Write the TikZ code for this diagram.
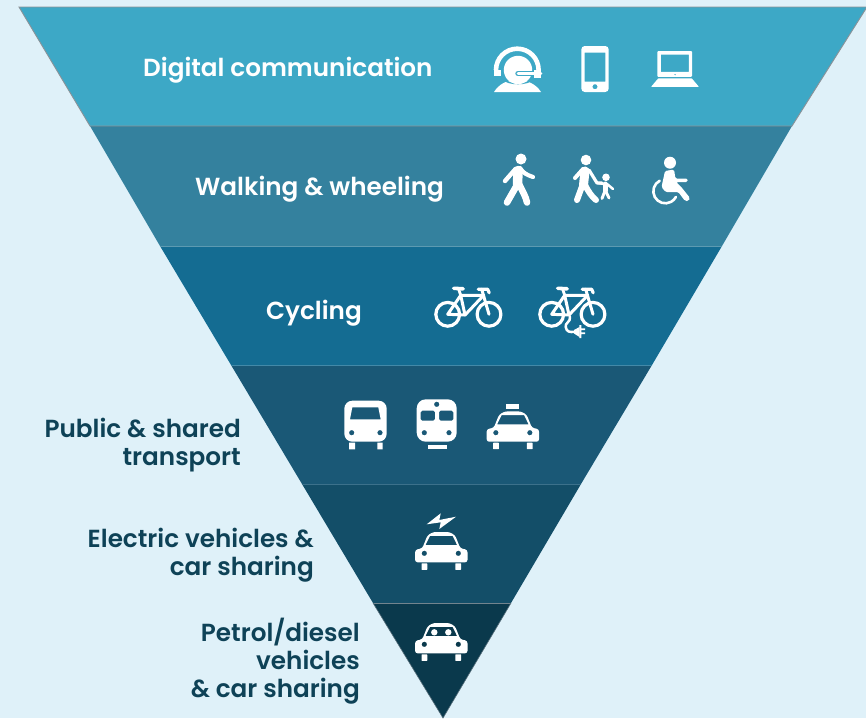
\documentclass[tikz,border=0pt]{standalone}
\usepackage{fontspec}
\setmainfont{Poppins}[BoldFont={Poppins SemiBold}]
\definecolor{bgc}{HTML}{DFF1F9}
\definecolor{bandA}{HTML}{3DA8C6}
\definecolor{bandB}{HTML}{34819E}
\definecolor{bandC}{HTML}{146C92}
\definecolor{bandD}{HTML}{1A5876}
\definecolor{bandE}{HTML}{134E68}
\definecolor{bandF}{HTML}{0A394C}
\definecolor{darklabel}{HTML}{0E4257}
\definecolor{edgec}{HTML}{8A9298}
\tikzset{
  whitelabel/.style={font=\bfseries\fontsize{24.7}{28}\selectfont,text=white,inner sep=0pt},
  darktext/.style={font=\bfseries\fontsize{24.7}{28}\selectfont,text=darklabel,inner sep=0pt,align=right},
  iconline/.style={draw=white,line cap=round,line join=round},
  sepline/.style={line width=0.8},
  carwheels/.pic={
    \fill[white,rounded corners=0.5pt] (-19.8,1) rectangle (-14,7.5) (14,1) rectangle (19.8,7.5);
  },
  carbody/.pic={
    \fill[white,even odd rule,rounded corners=2.5pt] (-26.2,0) -- (-26.2,-12.5) -- (-19,-14) -- (-13.8,-27) -- (-8,-30.3) -- (8,-30.3) -- (13.8,-27) -- (19,-14) -- (26.2,-12.5) -- (26.2,0) -- cycle
    [sharp corners] (-15.8,-17.3) -- (-11.3,-26.5) -- (11.3,-26.5) -- (15.8,-17.3) -- cycle (-17,-9) circle (2.7) (17,-9) circle (2.7);
  },
  bikeframe/.pic={
    \draw[iconline,line width=3.2] (0,0) circle (11.9) (41.3,0) circle (11.9);
    \draw[iconline,line width=3] (0,0) -- (13,-19) -- (17.3,0.7) -- cycle;
    \draw[iconline,line width=3] (13,-19) -- (36,-19) -- (17.3,0.7);
    \draw[iconline,line width=3] (34,-25) -- (41.3,0);
    \draw[iconline,line width=2.8] (10.7,-26) -- (13,-19);
    \draw[iconline,line width=3.6] (6,-26) -- (15.5,-25.5);
    \draw[iconline,line width=3.2] (30.5,-25) -- (40,-25) -- (41.5,-21.5);
  }
}
\begin{document}
\begin{tikzpicture}[x=1pt,y=-1pt]
\useasboundingbox (0,0) rectangle (866,718);
\fill[bgc] (0,0) rectangle (866,718);
% bands
\fill[bandA] (19,7) -- (867,7) -- (792,126) -- (90,126) -- cycle;
\fill[bandB] (90,126) -- (792,126) -- (722,246) -- (160,246) -- cycle;
\fill[bandC] (160,246) -- (722,246) -- (652,365) -- (231,365) -- cycle;
\fill[bandD] (231,365) -- (652,365) -- (581,484) -- (302,484) -- cycle;
\fill[bandE] (302,484) -- (581,484) -- (511,603) -- (373,603) -- cycle;
\fill[bandF] (373,603) -- (511,603) -- (443,718) -- cycle;
% edges
\draw[edgec,line width=0.9] (90,126) -- (19,7) -- (867,7) -- (792,126) -- cycle;
\draw[sepline,color=bandB!80!white] (160,246) -- (722,246);
\draw[sepline,color=bandC!80!white] (231,365) -- (652,365);
\draw[sepline,color=bandD!85!white] (302,484) -- (581,484);
\draw[edgec!80!bandE,line width=1] (373,603) -- (511,603);
\draw[edgec!60!bandF,line width=0.6] (373,603) -- (443,718) -- (511,603);
% labels
\node[whitelabel,anchor=base west] (lblA) at (143,76.5) {Digital communication};
\node[whitelabel,anchor=base west] (lblB) at (195,195) {Walking \& wheeling};
\node[whitelabel,anchor=base west] (lblC) at (266,319.5) {Cycling};
\node[darktext,anchor=east] (lblD) at (241,445) {Public \& shared\\transport};
\node[darktext,anchor=east] (lblE) at (314,555) {Electric vehicles \&\\car sharing};
\node[darktext,anchor=east] (lblF) at (360,661.5) {Petrol/diesel\\vehicles\\\& car sharing};
% headset
\fill[white] (494,92) .. controls (499,84) and (507,80) .. (517,79.5) .. controls (527,80) and (536,84) .. (541,92) -- cycle;
\draw[bandA,line width=1.6] (503,79) .. controls (508,85) and (528,85) .. (533,79);
\fill[white] (518,70) circle (14.2);
\draw[white,line width=4.6] (496,70) arc[start angle=180,end angle=360,radius=21.3];
\fill[white] (494,69.5) rectangle (500.5,76);
\draw[bandA,line width=5.4,line cap=round] (518,73.5) -- (540,73.5);
\draw[white,line width=2.6,line cap=round] (518,73.5) -- (541,73.5);
\fill[white] (533.5,69.5) rectangle (541,77.5);
% phone
\fill[white,even odd rule,rounded corners=3.5pt] (581.3,46) rectangle (608.7,92) [sharp corners] (584.6,52.7) rectangle (605.4,81.5) (595,86.7) circle (2.6);
% laptop
\fill[white,even odd rule,rounded corners=1pt] (657.3,51) rectangle (692,76.9) [sharp corners] (660.8,54.5) rectangle (688.9,71.8) (675,74.6) circle (0.9);
\fill[white,rounded corners=0.6pt] (658.3,78.3) -- (691.7,78.3) -- (699,86.9) -- (651,86.9) -- cycle;
% walker
\fill[white] (521,159) circle (5.5);
\draw[iconline,line width=4.4] (515.5,169) -- (505,181);
\draw[iconline,line width=4.2] (520,168) .. controls (523,173) and (527,175) .. (533,177);
\draw[iconline,line width=9.5] (518,170.5) -- (517.5,185);
\draw[iconline,line width=6.6] (517,185) -- (507,202.5);
\draw[iconline,line width=6.6] (519.5,185) .. controls (522,190) and (526,197) .. (527,202.5);
% adult and child
\fill[white] (586,160) circle (5.3);
\draw[iconline,line width=4] (583,169) -- (575,178);
\draw[iconline,line width=3.2] (589,170) -- (597,183) -- (602,183);
\draw[iconline,line width=9] (585,171) -- (583.5,185);
\draw[iconline,line width=6] (582.5,185) -- (577,200);
\draw[iconline,line width=6] (585,185) .. controls (588,191) and (592,197) .. (596,200);
\fill[white] (606,177.3) circle (3.8);
\draw[iconline,line width=2.5] (604,184) -- (598,183);
\draw[iconline,line width=2.5] (607,184) -- (613,189);
\draw[iconline,line width=5] (605,184) -- (605,191);
\draw[iconline,line width=2.9] (604.5,192) -- (602,198.5);
\draw[iconline,line width=2.9] (606,192) -- (609,198);
% wheelchair
\fill[white] (670,162.7) circle (6);
\fill[white,rounded corners=1.5pt] (665,171) -- (674,169.5) -- (675.5,178.7) -- (687.7,178.7) -- (687.7,182) -- (676,182) -- (681,186.7) -- (690,198) -- (688.5,201) -- (685,201) -- (678.3,192) -- (665.5,192) -- (661.5,187) -- cycle;
\draw[white,line width=2.6,line cap=round] (659.7,180.7) arc[start angle=242,end angle=28,radius=12];
% bicycles
\pic at (447.7,314.3) {bikeframe};
\pic at (551.7,314.3) {bikeframe};
\draw[iconline,line width=2.5] (570,316.7) .. controls (571,322) and (564.5,323) .. (565.7,327) .. controls (566.5,332) and (570,332.5) .. (575,331.7);
\fill[white] (574,330) -- (579.5,327) -- (579.5,337) -- (574,333.5) -- cycle;
\fill[white] (579.3,325) rectangle (581.3,338) (581,328.4) rectangle (585,330.2) (581,332.4) rectangle (585,334.2);
% bus
\fill[white,even odd rule,rounded corners=8pt] (344.3,400.7) rectangle (386.7,441.7) [sharp corners]
  (352.3,407.3) -- (378.3,407.3) -- (380.7,419.3) -- (350,419.3) -- cycle
  (351.7,432.7) circle (2.7) (380,432.7) circle (2.7);
\fill[white] (349,442.5) rectangle (355,449.3) (377.3,442.5) rectangle (382.7,449.3);
% train
\fill[white,even odd rule,rounded corners=9pt] (416.7,399.3) rectangle (456.7,441.7) [sharp corners]
  (436.7,404.3) circle (2.7) (424.3,432.7) circle (2.7) (449,432.7) circle (2.7)
  [rounded corners=1.5pt] (420.7,410.7) rectangle (435,420.7) (439,410.7) rectangle (453.3,420.7);
\fill[white] (428,445) rectangle (447,449);
% taxi
\fill[white] (506.3,404.3) rectangle (519,409.3);
\pic at (512.85,441.7) {carbody};
\pic at (512.85,441.7) {carwheels};
% electric car
\fill[white] (426.7,524.3) -- (440.7,513.3) -- (439.3,520) -- (456,516.7) -- (439.3,529) -- (440.7,522.3) -- cycle;
\pic at (441.3,562.3) {carbody};
\pic at (441.3,562.3) {carwheels};
% petrol car
\pic at (441.3,653.3) {carbody};
\pic at (441.3,653.3) {carwheels};
\fill[white] (434.3,632.3) circle (3.2) (448.3,632.3) circle (3.2);
\end{tikzpicture}
\end{document}
